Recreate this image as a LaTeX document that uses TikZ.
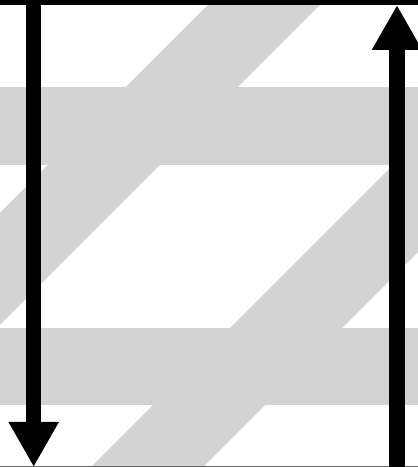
\documentclass[tikz,border=0pt]{standalone}
\usetikzlibrary{arrows.meta}
\definecolor{bandgray}{RGB}{211,211,211}
\definecolor{edgegray}{RGB}{100,100,100}
\tikzset{
  band/.style={fill=bandgray, draw=none},
  bigarrow/.style={line width=15.5pt, -{Triangle[width=47pt,length=45pt]}},
  topbar/.style={line width=5pt, black},
  bottombar/.style={line width=1pt, edgegray}
}
\begin{document}
\begin{tikzpicture}[x=1pt,y=1pt]
\useasboundingbox (0,0) rectangle (418,467);
\clip (0,0) rectangle (418,467);
\fill[white] (0,0) rectangle (418,467);
% diagonal stripes
\fill[band] (-264,-10) -- (-152,-10) -- (338,480) -- (226,480) -- cycle;
\fill[band] (81,-10) -- (193,-10) -- (683,480) -- (571,480) -- cycle;
% horizontal bands
\fill[band] (0,302) rectangle (418,380);
\fill[band] (0,62) rectangle (418,139);
% top and bottom bars
\coordinate (tl) at (0,464.5);
\coordinate (tr) at (418,464.5);
\draw[topbar] (tl) -- (tr);
\coordinate (bl) at (0,0.5);
\coordinate (br) at (418,0.5);
\draw[bottombar] (bl) -- (br);
% arrows
\coordinate (ltop) at (33.7,467);
\coordinate (lbot) at (33.7,0);
\draw[bigarrow] (ltop) -- (lbot);
\coordinate (rbot) at (397,0);
\coordinate (rtop) at (397,462);
\draw[bigarrow] (rbot) -- (rtop);
\end{tikzpicture}
\end{document}
